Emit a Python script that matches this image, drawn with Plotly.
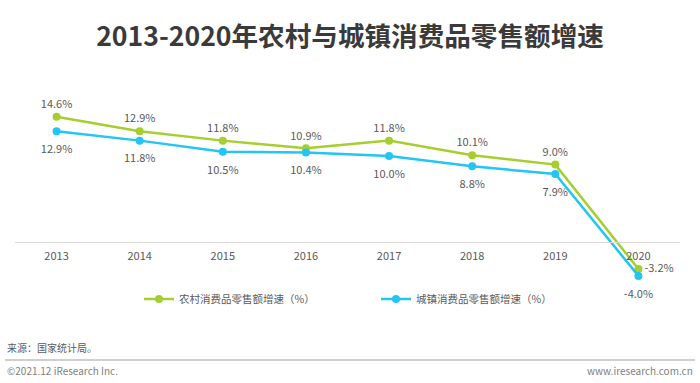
import plotly.graph_objects as go

years = ["2013", "2014", "2015", "2016", "2017", "2018", "2019", "2020"]
rural = [14.6, 12.9, 11.8, 10.9, 11.8, 10.1, 9.0, -3.2]
urban = [12.9, 11.8, 10.5, 10.4, 10.0, 8.8, 7.9, -4.0]
rural_name = "农村消费品零售额增速（%）"
urban_name = "城镇消费品零售额增速（%）"
title_text = "2013-2020年农村与城镇消费品零售额增速"
source_text = "来源：国家统计局。"
copyright_text = "©2021.12 iResearch Inc."
site_text = "www.iresearch.com.cn"

GREEN = "#A6CE2E"
BLUE = "#22C5F3"
LABEL = "#595959"
FONT = "Noto Sans CJK SC, Noto Sans, sans-serif"

W, H = 700, 383
L, R, T, B = 15, 20, 79, 90
PW, PH = W - L - R, H - T - B


def px(x):
    return (x - L) / PW


def py(y):
    return (H - B - y) / PH


fig = go.Figure()
fig.add_trace(go.Scatter(
    x=years, y=rural, name=rural_name, mode="lines+markers+text",
    line=dict(color=GREEN, width=2.5), marker=dict(color=GREEN, size=8),
    text=[f"{v:.1f}%" for v in rural],
    textposition=["top center"] * 7 + ["middle right"],
    textfont=dict(size=11, color=LABEL, family=FONT),
    cliponaxis=False, legend="legend",
))
fig.add_trace(go.Scatter(
    x=years, y=urban, name=urban_name, mode="lines+markers",
    line=dict(color=BLUE, width=2.5), marker=dict(color=BLUE, size=8),
    cliponaxis=False, legend="legend2",
))
# urban value labels: invisible larger markers push the text a bit further below
fig.add_trace(go.Scatter(
    x=years, y=urban, mode="markers+text", showlegend=False, hoverinfo="skip",
    marker=dict(size=20, opacity=0, color=BLUE),
    text=[f"{v:.1f}%" for v in urban], textposition="bottom center",
    textfont=dict(size=11, color=LABEL, family=FONT), cliponaxis=False,
))

legend_common = dict(orientation="h", xanchor="left", yanchor="middle",
                     font=dict(size=10.5, color=LABEL, family=FONT),
                     itemwidth=30, bgcolor="rgba(0,0,0,0)", borderwidth=0)

fig.update_layout(
    width=W, height=H,
    margin=dict(l=L, r=R, t=T, b=B, autoexpand=False),
    paper_bgcolor="white", plot_bgcolor="white",
    font=dict(family=FONT, color=LABEL, size=11),
    title=dict(text=f"<b>{title_text}</b>", x=0.5, xanchor="center", y=1 - 37 / H, yanchor="middle",
               yref="container",
               font=dict(size=26.6, color="#3A3A3A", family=FONT)),
    showlegend=True,
    legend=dict(x=px(139), y=py(299), **legend_common),
    legend2=dict(x=px(376), y=py(299), **legend_common),
    xaxis=dict(type="category", range=[-0.5, 7.5], showgrid=False, zeroline=False,
               anchor="free", position=0.24, showline=True, linecolor="#D9D9D9", linewidth=1,
               ticks="", tickfont=dict(size=11, color=LABEL, family=FONT), ticklabelstandoff=4,
               automargin=False),
    yaxis=dict(range=[-6, 19], showgrid=False, zeroline=False, showticklabels=False,
               showline=False, automargin=False),
)

fig.add_annotation(text=source_text, xref="paper", yref="paper", x=px(5), y=py(347),
                   xanchor="left", yanchor="middle", showarrow=False,
                   font=dict(size=10, color=LABEL, family=FONT))
fig.add_annotation(text=copyright_text, xref="paper", yref="paper", x=px(5), y=py(370),
                   xanchor="left", yanchor="middle", showarrow=False,
                   font=dict(size=10, color="#7F7F7F", family=FONT))
fig.add_annotation(text=site_text, xref="paper", yref="paper", x=px(695), y=py(370),
                   xanchor="right", yanchor="middle", showarrow=False,
                   font=dict(size=10, color="#7F7F7F", family=FONT))
fig.add_shape(type="line", xref="paper", yref="paper",
              x0=px(5), x1=px(695), y0=py(360), y1=py(360),
              line=dict(color="#BFBFBF", width=1.5))

fig.write_html("out.html", config={"displayModeBar": False},
               post_script="document.body.style.margin='0';")
